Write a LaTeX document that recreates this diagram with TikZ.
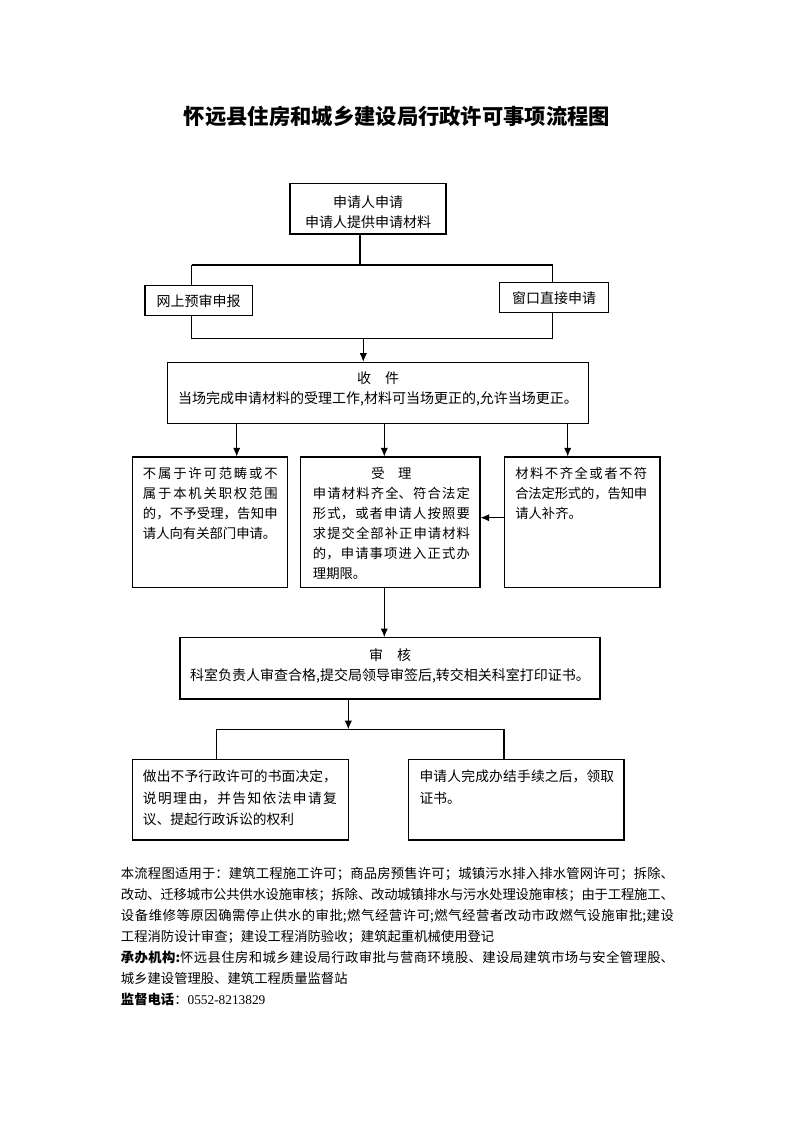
\documentclass[tikz,border=0pt]{standalone}
\usepackage{fontspec}
\setmainfont{Noto Sans CJK SC}
\newfontfamily\numfont{Liberation Serif}
\usetikzlibrary{fit,arrows.meta}
\XeTeXlinebreaklocale "zh"
\XeTeXlinebreakskip=0pt plus 2pt minus 0.4pt
\setlength\parindent{0pt}
\begin{document}
\begin{tikzpicture}[x=0.75pt,y=-0.75pt,
  box/.style={draw, line width=0.8pt, inner sep=0pt},
  txt/.style={anchor=north west, inner sep=0pt, align=justify, font=\fontsize{10pt}{15pt}\selectfont},
  ctxt/.style={inner sep=0pt, align=center, font=\fontsize{10.5pt}{15pt}\selectfont},
  btxt/.style={txt, font=\fontsize{10.3pt}{16.3pt}\selectfont},
  ln/.style={line width=0.8pt},
  arr/.style={ln, -{Latex[length=6.5pt,width=5.5pt]}}]
\fill[white] (0,0) rectangle (793,1122);
\useasboundingbox (0,0) rectangle (793,1122);

% title
\node[font=\fontsize{16pt}{16pt}\selectfont\bfseries] (title) at (397,116.7) {怀远县住房和城乡建设局行政许可事项流程图};

% boxes
\node[box, fit={(290,183.3) (446,234)}] (T) {};
\node[box, fit={(145,285.7) (252.3,315.7)}] (W) {};
\node[box, fit={(499.3,282.3) (608.3,312.7)}] (C) {};
\node[box, fit={(167.7,362.3) (588.3,423.3)}] (S) {};
\node[box, fit={(132.3,457) (287.7,587.7)}] (L) {};
\node[box, fit={(300.7,457) (480,587.7)}] (M) {};
\node[box, fit={(504.3,457) (660,587.7)}] (R) {};
\node[box, fit={(180,637.7) (600,699)}] (V) {};
\node[box, fit={(132.3,759.3) (348.3,840)}] (BL) {};
\node[box, fit={(408.3,759.3) (624,840)}] (BR) {};

% texts
\node[ctxt] (Tt) at (368,211.7) {申请人申请\\申请人提供申请材料};
\node[ctxt] (Wt) at (198.7,300.7) {网上预审申报};
\node[ctxt] (Ct) at (554,298.3) {窗口直接申请};
\node[ctxt] (St) at (378,389.2) {收　件\\当场完成申请材料的受理工作,材料可当场更正的,允许当场更正。};
\node[txt, text width=101pt] (Lt) at (142.7,467) {不属于许可范畴或不\linebreak 属于本机关职权范围\linebreak 的，不予受理，告知申\linebreak 请人向有关部门申请。};
\node[txt, text width=117.75pt] (Mt) at (312.7,467) {{\centering 受　理\par}申请材料齐全、符合法定\linebreak 形式，或者申请人按照要\linebreak 求提交全部补正申请材料\linebreak 的，申请事项进入正式办\linebreak 理期限。};
\node[txt, text width=99pt] (Rt) at (515,467) {材料不齐全或者不符\linebreak 合法定形式的，告知申\linebreak 请人补齐。};
\node[ctxt] (Vt) at (390,666.2) {审　核\\科室负责人审查合格,提交局领导审签后,转交相关科室打印证书。};
\node[btxt, text width=145.5pt] (BLt) at (142.7,769.5) {做出不予行政许可的书面决定，\linebreak 说明理由，并告知依法申请复\linebreak 议、提起行政诉讼的权利};
\node[btxt, text width=146pt] (BRt) at (419.3,769.5) {申请人完成办结手续之后，领取\linebreak 证书。};

% bottom note
\node[txt, font=\fontsize{10pt}{15.8pt}\selectfont, text width=414.75pt] (note) at (120.7,867) {本流程图适用于：建筑工程施工许可；商品房预售许可；城镇污水排入排水管网许可；拆除、\linebreak 改动、迁移城市公共供水设施审核；拆除、改动城镇排水与污水处理设施审核；由于工程施工、\linebreak 设备维修等原因确需停止供水的审批;燃气经营许可;燃气经营者改动市政燃气设施审批;建设\linebreak 工程消防设计审查；建设工程消防验收；建筑起重机械使用登记\par
{\bfseries 承办机构:}怀远县住房和城乡建设局行政审批与营商环境股、建设局建筑市场与安全管理股、\linebreak 城乡建设管理股、建筑工程质量监督站\par
{\bfseries 监督电话}：{\numfont 0552-8213829}};

% connectors
\coordinate (j0) at (360,265);
\coordinate (jL) at (191.7,265);
\coordinate (jR) at (552.7,265);
\draw[ln] (T.south -| j0) -- (j0);
\draw[ln] (jL) -- (jR);
\draw[ln] (jL) -- (W.north -| jL);
\draw[ln] (jR) -- (C.north -| jR);
\coordinate (kL) at (191.7,338.3);
\coordinate (kR) at (552.7,338.3);
\coordinate (k0) at (363.3,338.3);
\draw[ln] (W.south -| kL) -- (kL) -- (kR) -- (C.south -| kR);
\draw[arr] (k0) -- (S.north -| k0);
\coordinate (a1) at (236.7,440);
\coordinate (a2) at (384.3,440);
\coordinate (a3) at (567.7,440);
\draw[arr] (S.south -| a1) -- (L.north -| a1);
\draw[arr] (S.south -| a2) -- (M.north -| a2);
\draw[arr] (S.south -| a3) -- (R.north -| a3);
\coordinate (h) at (490,517.7);
\draw[arr] (R.west |- h) -- (M.east |- h);
\draw[arr] (M.south -| a2) -- (V.north -| a2);
\coordinate (b0) at (348.3,729.3);
\coordinate (bL) at (216.7,729.3);
\coordinate (bR) at (504,729.3);
\draw[arr] (V.south -| b0) -- (b0);
\draw[ln] (bL) -- (bR);
\draw[ln] (bL) -- (BL.north -| bL);
\draw[ln] (bR) -- (BR.north -| bR);
\end{tikzpicture}
\end{document}
